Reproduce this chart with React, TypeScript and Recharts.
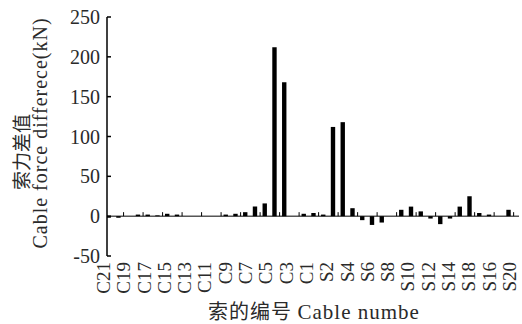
import React from 'react';
import { ComposedChart, Bar, Scatter, XAxis, YAxis, ReferenceLine } from 'recharts';

// cable order along the deck: C21 ... C1, then S1 ... S21
const cables = [
  'C21', 'C20', 'C19', 'C18', 'C17', 'C16', 'C15', 'C14', 'C13', 'C12', 'C11',
  'C10', 'C9', 'C8', 'C7', 'C6', 'C5', 'C4', 'C3', 'C2', 'C1',
  'S1', 'S2', 'S3', 'S4', 'S5', 'S6', 'S7', 'S8', 'S9', 'S10',
  'S11', 'S12', 'S13', 'S14', 'S15', 'S16', 'S17', 'S18', 'S19', 'S20', 'S21',
];

// cable force difference (kN)
const forceDiff = [
  -2, -2, 0, 2, 2, 1, 3, 2, 0, 0, 0,
  0, 2, 3, 5, 12, 16, 212, 168, 0, 3,
  4, 2, 112, 118, 10, -5, -11, -8, 0, 8,
  12, 6, -3, -10, -3, 12, 25, 4, 2, 0, 8,
];

// x labels as printed (every second cable, S18/S16 order kept as in the figure)
const xTickIdx = [0, 2, 4, 6, 8, 10, 12, 14, 16, 18, 20, 22, 24, 26, 28, 30, 32, 34, 36, 38, 40];
const xTickLabels = [
  'C21', 'C19', 'C17', 'C15', 'C13', 'C11', 'C9', 'C7', 'C5', 'C3', 'C1',
  'S2', 'S4', 'S6', 'S8', 'S10', 'S12', 'S14', 'S18', 'S16', 'S20',
];
// small inward tick marks sitting on the zero line
const zeroTickIdx = [1.5, 3.5, 5.5, 7.5, 9.5, 11.5, 13.5, 15.5, 17.5, 19.5, 21.5, 23.5, 25.5, 27.5, 29.5, 31.5, 33.5, 35.5, 37.5, 39.5, 41.5];

const yTicks = [-50, 0, 50, 100, 150, 200, 250];

const data = cables.map((name, i) => ({ idx: i, name, diff: forceDiff[i] }));
const tickMarks = zeroTickIdx.map((idx) => ({ idx, v: 0 }));

const serif = '"Liberation Serif", "Times New Roman", serif';
const cjk = '"Noto Sans CJK SC", sans-serif';
const ink = '#2a2a2a';

// the printed labels drift slightly wider than the bars, so nudge them
const XTick = (props: any) => {
  const { x, y, payload } = props;
  const label = xTickLabels[xTickIdx.indexOf(payload.value)];
  const nudge = -5 + 0.4 * payload.value;
  return (
    <text
      x={0}
      y={0}
      transform={`translate(${x + nudge + 6},${y}) rotate(-90)`}
      textAnchor="end"
      fontFamily={serif}
      fontSize={19}
      fill={ink}
    >
      {label}
    </text>
  );
};

const YTick = (props: any) => {
  const { x, y, payload } = props;
  return (
    <g>
      <line x1={x + 7} x2={x + 11} y1={y} y2={y} stroke="#000" strokeWidth={1.5} />
      <text x={x} y={y} dy="0.35em" textAnchor="end" fontFamily={serif} fontSize={20} fill={ink}>
        {payload.value}
      </text>
    </g>
  );
};

const ZeroTick = (props: any) => {
  const { cx, cy } = props;
  return <line x1={cx} x2={cx} y1={cy} y2={cy - 4} stroke="#000" strokeWidth={1} />;
};

const YTitle = () => (
  <g>
    <text
      x={0}
      y={0}
      transform="translate(29,152) rotate(-90)"
      textAnchor="middle"
      fontFamily={cjk}
      fontSize={19}
      fill={ink}
    >
      索力差值
    </text>
    <text
      x={0}
      y={0}
      transform="translate(47,133) rotate(-90)"
      textAnchor="middle"
      fontFamily={serif}
      fontSize={20}
      letterSpacing={1}
      fill={ink}
    >
      Cable force differece(kN)
    </text>
  </g>
);

const XTitle = () => (
  <text x={314} y={319} textAnchor="middle" fill={ink}>
    <tspan fontFamily={cjk} fontSize={20} letterSpacing={1}>索的编号 </tspan>
    <tspan fontFamily={serif} fontSize={21} letterSpacing={1}>Cable numbe</tspan>
  </text>
);

export default function App() {
  return (
    <div style={{ position: 'absolute', left: 0, top: 0, width: 522, height: 324, background: '#fff' }}>
      <ComposedChart width={522} height={324} data={data} margin={{ top: 17, right: 3, left: 0, bottom: 18 }}>
        <XAxis
          dataKey="idx"
          type="number"
          domain={[-0.2, 42.05]}
          allowDataOverflow
          ticks={xTickIdx}
          interval={0}
          axisLine={false}
          tickLine={false}
          tickSize={0}
          tickMargin={6}
          height={50}
          tick={<XTick />}
          label={() => <XTitle />}
        />
        <YAxis
          type="number"
          domain={[-50, 250]}
          ticks={yTicks}
          interval={0}
          width={107}
          axisLine={{ stroke: '#000', strokeWidth: 1.5 }}
          tickLine={false}
          tickSize={0}
          tickMargin={7}
          tick={<YTick />}
          label={() => <YTitle />}
        />
        <ReferenceLine y={0} stroke="#000" strokeWidth={1} />
        <Bar dataKey="diff" fill="#000" barSize={6} isAnimationActive={false} />
        <Scatter data={tickMarks} dataKey="v" shape={<ZeroTick />} isAnimationActive={false} />
      </ComposedChart>
    </div>
  );
}
